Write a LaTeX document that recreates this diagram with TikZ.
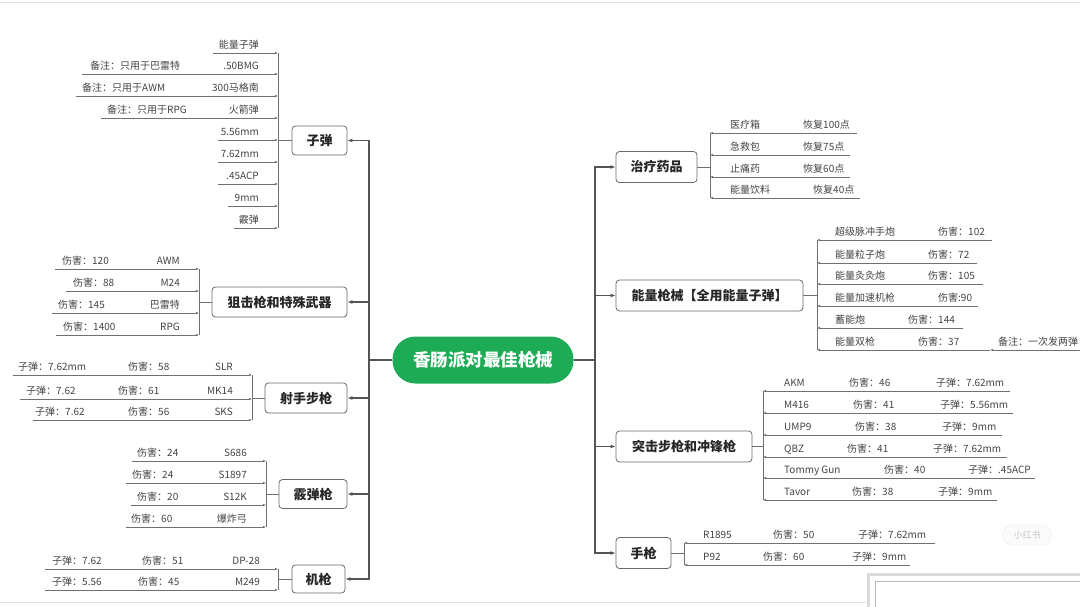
\documentclass[tikz,border=0pt]{standalone}
\usepackage{fontspec}
\setmainfont{Noto Sans CJK SC}
\usetikzlibrary{arrows.meta}
\definecolor{cgreen}{HTML}{1EAB55}
\definecolor{trunkc}{HTML}{555555}
\definecolor{linec}{HTML}{707070}
\definecolor{txtc}{HTML}{444444}
\definecolor{boxc}{HTML}{6A6A6A}
\newcommand\itemlink[2]{\draw[iline] (#1) -- (#1 -| #2);}
\begin{document}
\begin{tikzpicture}[x=1pt,y=-1pt,
  catbox/.style={draw=boxc, line width=0.8pt, rounded corners=3.5pt, fill=white, inner sep=0pt, font=\fontsize{13}{15}\selectfont\bfseries, text=black!85},
  itemL/.style={inner sep=0pt, anchor=base east, yshift=4.5pt, font=\fontsize{10}{12}\selectfont, text=txtc},
  itemR/.style={inner sep=0pt, anchor=base west, yshift=4.5pt, font=\fontsize{10}{12}\selectfont, text=txtc},
  trunk/.style={draw=trunkc, line width=1.6pt, -{Latex[length=5pt,width=4pt]}},
  brk/.style={draw=linec, line width=0.7pt},
  iline/.style={draw=linec, line width=0.6pt, -{Latex[length=3pt,width=2.5pt]}},
]
\useasboundingbox (0,0) rectangle (1080,606);
\fill[white] (0,0) rectangle (1080,606);
\draw[black!12, line width=0.8pt] (0,2.5) -- (1080,2.5);
\draw[black!12, line width=0.8pt] (0,602) -- (1080,602);

% root
\node[fill=cgreen, rounded corners=23pt, minimum width=181pt, minimum height=47pt, inner sep=0pt,
      text=white, font=\fontsize{17.5}{20}\selectfont\bfseries] (root) at (483,360) {香肠派对最佳枪械};

% ---------- left categories ----------
\node[catbox, minimum width=55pt, minimum height=29pt] (ammo) at (319.5,140.5) {子弹};
\node[catbox, minimum width=135pt, minimum height=30pt] (snip) at (279.5,302) {狙击枪和特殊武器};
\node[catbox, minimum width=82pt, minimum height=30pt] (mark) at (306,398) {射手步枪};
\node[catbox, minimum width=68pt, minimum height=29pt] (shot) at (313,494) {霰弹枪};
\node[catbox, minimum width=53pt, minimum height=28pt] (mg) at (318.5,579) {机枪};

\foreach \c in {ammo,snip,mark,shot,mg}
  {\draw[trunk] (root.west) -- (369,360) |- (\c.east);}

% ---------- right categories ----------
\node[catbox, minimum width=81pt, minimum height=31pt] (heal) at (656.5,167) {治疗药品};
\node[catbox, minimum width=187pt, minimum height=31pt] (ener) at (709.5,295.5) {能量枪械【全用能量子弹】};
\node[catbox, minimum width=136pt, minimum height=31pt] (assa) at (684,446.5) {突击步枪和冲锋枪};
\node[catbox, minimum width=55pt, minimum height=31pt] (pist) at (643.5,553) {手枪};

\foreach \c in {heal,ener,assa,pist}
  {\draw[trunk] (root.east) -- (595,360) |- (\c.west);}

% ---------- 子弹 ----------
\coordinate (ammoB) at (278,140.5);
\draw[brk] (ammo.west) -- (ammoB);
\coordinate (a1) at (213,53);  \node[itemL] (a1n) at (259,53) {能量子弹};
\coordinate (a2) at (82,74);   \node[itemL] (a2n) at (259,74) {.50BMG};
\node[itemR] (a2m) at (90,74) {备注：只用于巴雷特};
\coordinate (a3) at (76,96);   \node[itemL] (a3n) at (259,96) {300马格南};
\node[itemR] (a3m) at (82,96) {备注：只用于AWM};
\coordinate (a4) at (101,118); \node[itemL] (a4n) at (259,118) {火箭弹};
\node[itemR] (a4m) at (107,118) {备注：只用于RPG};
\coordinate (a5) at (218,140); \node[itemL] (a5n) at (259,140) {5.56mm};
\coordinate (a6) at (218,162); \node[itemL] (a6n) at (259,162) {7.62mm};
\coordinate (a7) at (218,184); \node[itemL] (a7n) at (259,184) {.45ACP};
\coordinate (a8) at (228,206); \node[itemL] (a8n) at (259,206) {9mm};
\coordinate (a9) at (234,228); \node[itemL] (a9n) at (259,228) {霰弹};
\draw[brk] (a1 -| ammoB) -- (a9 -| ammoB);
\foreach \i in {1,...,9} {\itemlink{a\i}{ammoB}}

% ---------- 狙击枪和特殊武器 ----------
\coordinate (snipB) at (199,302);
\draw[brk] (snip.west) -- (snipB);
\coordinate (s1) at (55,269); \node[itemL] (s1n) at (180,269) {AWM};  \node[itemR] (s1d) at (62,269) {伤害：120};
\coordinate (s2) at (66,291); \node[itemL] (s2n) at (180,291) {M24};  \node[itemR] (s2d) at (73,291) {伤害：88};
\coordinate (s3) at (52,313); \node[itemL] (s3n) at (180,313) {巴雷特}; \node[itemR] (s3d) at (58,313) {伤害：145};
\coordinate (s4) at (56,335); \node[itemL] (s4n) at (180,335) {RPG};  \node[itemR] (s4d) at (63,335) {伤害：1400};
\draw[brk] (s1 -| snipB) -- (s4 -| snipB);
\foreach \i in {1,...,4} {\itemlink{s\i}{snipB}}

% ---------- 射手步枪 ----------
\coordinate (markB) at (252,398);
\draw[brk] (mark.west) -- (markB);
\coordinate (m1) at (13,375); \node[itemL] (m1n) at (233,375) {SLR};
\node[itemR] (m1b) at (18,375) {子弹：7.62mm}; \node[itemR] (m1d) at (128,375) {伤害：58};
\coordinate (m2) at (20,399); \node[itemL] (m2n) at (233,399) {MK14};
\node[itemR] (m2b) at (26,399) {子弹：7.62}; \node[itemR] (m2d) at (118,399) {伤害：61};
\coordinate (m3) at (33,420); \node[itemL] (m3n) at (233,420) {SKS};
\node[itemR] (m3b) at (35,420) {子弹：7.62}; \node[itemR] (m3d) at (128,420) {伤害：56};
\draw[brk] (m1 -| markB) -- (m3 -| markB);
\foreach \i in {1,...,3} {\itemlink{m\i}{markB}}

% ---------- 霰弹枪 ----------
\coordinate (shotB) at (266,494);
\draw[brk] (shot.west) -- (shotB);
\coordinate (g1) at (132,461); \node[itemL] (g1n) at (247,461) {S686};  \node[itemR] (g1d) at (137,461) {伤害：24};
\coordinate (g2) at (126,483); \node[itemL] (g2n) at (247,483) {S1897}; \node[itemR] (g2d) at (132,483) {伤害：24};
\coordinate (g3) at (131,505); \node[itemL] (g3n) at (247,505) {S12K};  \node[itemR] (g3d) at (137,505) {伤害：20};
\coordinate (g4) at (126,527); \node[itemL] (g4n) at (247,527) {爆炸弓}; \node[itemR] (g4d) at (131,527) {伤害：60};
\draw[brk] (g1 -| shotB) -- (g4 -| shotB);
\foreach \i in {1,...,4} {\itemlink{g\i}{shotB}}

% ---------- 机枪 ----------
\coordinate (mgB) at (278,579);
\draw[brk] (mg.west) -- (mgB);
\coordinate (k1) at (45,569); \node[itemL] (k1n) at (260,569) {DP-28};
\node[itemR] (k1b) at (52,569) {子弹：7.62}; \node[itemR] (k1d) at (142,569) {伤害：51};
\coordinate (k2) at (45,590); \node[itemL] (k2n) at (260,590) {M249};
\node[itemR] (k2b) at (52,590) {子弹：5.56}; \node[itemR] (k2d) at (138,590) {伤害：45};
\draw[brk] (k1 -| mgB) -- (k2 -| mgB);
\foreach \i in {1,2} {\itemlink{k\i}{mgB}}

% ---------- 治疗药品 ----------
\coordinate (healB) at (710,167);
\draw[brk] (heal.east) -- (healB);
\coordinate (h1) at (857,133); \node[itemR] (h1n) at (730,133) {医疗箱};   \node[itemR] (h1d) at (803,133) {恢复100点};
\coordinate (h2) at (850,155); \node[itemR] (h2n) at (730,155) {急救包};   \node[itemR] (h2d) at (803,155) {恢复75点};
\coordinate (h3) at (850,177); \node[itemR] (h3n) at (730,177) {止痛药};   \node[itemR] (h3d) at (803,177) {恢复60点};
\coordinate (h4) at (860,198); \node[itemR] (h4n) at (730,198) {能量饮料}; \node[itemR] (h4d) at (813,198) {恢复40点};
\draw[brk] (h1 -| healB) -- (h4 -| healB);
\foreach \i in {1,...,4} {\itemlink{h\i}{healB}}

% ---------- 能量枪械 ----------
\coordinate (enerB) at (817,295.5);
\draw[brk] (ener.east) -- (enerB);
\coordinate (e1) at (992,240); \node[itemR] (e1n) at (835,240) {超级脉冲手炮}; \node[itemR] (e1d) at (938,240) {伤害：102};
\coordinate (e2) at (977,263); \node[itemR] (e2n) at (835,263) {能量粒子炮};   \node[itemR] (e2d) at (928,263) {伤害：72};
\coordinate (e3) at (983,284); \node[itemR] (e3n) at (835,284) {能量灸灸炮};   \node[itemR] (e3d) at (928,284) {伤害：105};
\coordinate (e4) at (978,306); \node[itemR] (e4n) at (835,306) {能量加速机枪}; \node[itemR] (e4d) at (938,306) {伤害:90};
\coordinate (e5) at (963,328); \node[itemR] (e5n) at (835,328) {蓄能炮};       \node[itemR] (e5d) at (908,328) {伤害：144};
\coordinate (e6) at (990,350); \node[itemR] (e6n) at (835,350) {能量双枪};     \node[itemR] (e6d) at (918,350) {伤害：37};
\coordinate (e6x) at (1085,350); \node[itemR] (e6m) at (998,350) {备注：一次发两弹};
\draw[iline] (e6x) -- (e6);
\draw[brk] (e1 -| enerB) -- (e6 -| enerB);
\foreach \i in {1,...,6} {\itemlink{e\i}{enerB}}

% ---------- 突击步枪和冲锋枪 ----------
\coordinate (assaB) at (763,446.5);
\draw[brk] (assa.east) -- (assaB);
\coordinate (r1) at (1010,391); \node[itemR] (r1n) at (784,391) {AKM};
\node[itemR] (r1d) at (849,391) {伤害：46}; \node[itemR] (r1b) at (936,391) {子弹：7.62mm};
\coordinate (r2) at (1013,413); \node[itemR] (r2n) at (784,413) {M416};
\node[itemR] (r2d) at (853,413) {伤害：41}; \node[itemR] (r2b) at (940,413) {子弹：5.56mm};
\coordinate (r3) at (1002,435); \node[itemR] (r3n) at (784,435) {UMP9};
\node[itemR] (r3d) at (855,435) {伤害：38}; \node[itemR] (r3b) at (942,435) {子弹：9mm};
\coordinate (r4) at (1007,457); \node[itemR] (r4n) at (784,457) {QBZ};
\node[itemR] (r4d) at (847,457) {伤害：41}; \node[itemR] (r4b) at (933,457) {子弹：7.62mm};
\coordinate (r5) at (1035,478); \node[itemR] (r5n) at (784,478) {Tommy Gun};
\node[itemR] (r5d) at (884,478) {伤害：40}; \node[itemR] (r5b) at (968,478) {子弹：.45ACP};
\coordinate (r6) at (997,500); \node[itemR] (r6n) at (784,500) {Tavor};
\node[itemR] (r6d) at (852,500) {伤害：38}; \node[itemR] (r6b) at (938,500) {子弹：9mm};
\draw[brk] (r1 -| assaB) -- (r6 -| assaB);
\foreach \i in {1,...,6} {\itemlink{r\i}{assaB}}

% ---------- 手枪 ----------
\coordinate (pistB) at (684,553);
\draw[brk] (pist.east) -- (pistB);
\coordinate (p1) at (935,543); \node[itemR] (p1n) at (703,543) {R1895};
\node[itemR] (p1d) at (773,543) {伤害：50}; \node[itemR] (p1b) at (858,543) {子弹：7.62mm};
\coordinate (p2) at (910,565); \node[itemR] (p2n) at (703,565) {P92};
\node[itemR] (p2d) at (763,565) {伤害：60}; \node[itemR] (p2b) at (852,565) {子弹：9mm};
\draw[brk] (p1 -| pistB) -- (p2 -| pistB);
\foreach \i in {1,2} {\itemlink{p\i}{pistB}}

% ---------- watermark and overlay ----------
\node[draw=black!7, fill=black!2, rounded corners=10pt, minimum width=49pt, minimum height=20pt, inner sep=0pt,
      text=black!22, font=\fontsize{9}{10}\selectfont] (wm) at (1027,535) {小红书};
\fill[white] (866,572) rectangle (1085,610);
\draw[black!14, line width=3pt] (868,574) rectangle (1090,615);
\draw[black!28, line width=0.8pt] (875,581) rectangle (1090,615);
\end{tikzpicture}
\end{document}
